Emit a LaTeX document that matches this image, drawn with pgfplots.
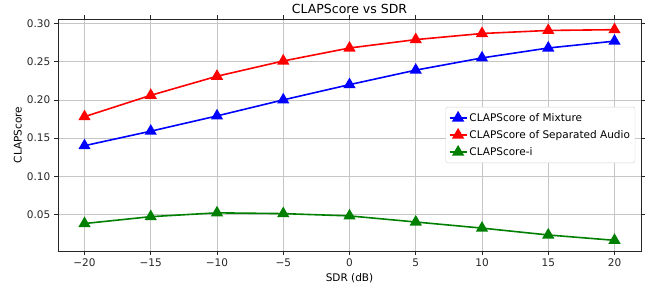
\documentclass[border=0pt]{standalone}
\usepackage{fontspec}
\setmainfont{DejaVu Sans}
\usepackage{pgfplots}
\pgfplotsset{compat=1.18}
\begin{document}
\fontsize{10.5}{12.5}\selectfont
\begin{tikzpicture}
\useasboundingbox (-58pt,-36pt) rectangle (594pt,251pt);
\begin{axis}[
  scale only axis,
  width=583pt, height=232pt,
  xmin=-22, xmax=22, ymin=0.002, ymax=0.306,
  xtick={-20,-15,-10,-5,0,5,10,15,20},
  xticklabels={−20,−15,−10,−5,0,5,10,15,20},
  ytick={0.05,0.10,0.15,0.20,0.25,0.30},
  yticklabel style={/pgf/number format/fixed,/pgf/number format/fixed zerofill,/pgf/number format/precision=2},
  /pgf/number format/assume math mode=true,
  tick label style={font=\fontsize{10.5}{12}\selectfont, color=black!85},
  tick align=outside, major tick length=4pt,
  tick style={black!85, line width=0.7pt},
  axis line style={black!85, line width=0.8pt},
  grid=major, grid style={gray!45, line width=0.7pt},
  title={CLAPScore vs SDR},
  title style={font=\fontsize{12.5}{14}\selectfont, yshift=-4pt},
  xlabel={SDR (dB)}, ylabel={CLAPScore},
  label style={font=\fontsize{10.5}{12}\selectfont},
  xlabel style={yshift=0pt},
  ylabel style={yshift=-2pt},
  legend style={at={(0.99,0.5)}, anchor=east, font=\fontsize{10.5}{12}\selectfont,
    draw=gray!35, rounded corners=2pt, row sep=3.5pt, inner xsep=3pt, inner ysep=4pt},
  legend cell align=left,
  every axis plot/.append style={line width=1.6pt, mark=triangle*, mark size=5.5pt, mark options={solid}},
]
\addplot[blue, mark options={fill=blue}] coordinates {
(-20,0.140) (-15,0.159) (-10,0.179) (-5,0.200) (0,0.220) (5,0.239) (10,0.255) (15,0.268) (20,0.277)};
\addlegendentry{CLAPScore of Mixture}
\addplot[red, mark options={fill=red}] coordinates {
(-20,0.178) (-15,0.206) (-10,0.231) (-5,0.251) (0,0.268) (5,0.279) (10,0.287) (15,0.291) (20,0.292)};
\addlegendentry{CLAPScore of Separated Audio}
\addplot[color={rgb,255:red,0;green,128;blue,0}, mark options={fill={rgb,255:red,0;green,128;blue,0}}] coordinates {
(-20,0.038) (-15,0.047) (-10,0.052) (-5,0.051) (0,0.048) (5,0.040) (10,0.032) (15,0.023) (20,0.016)};
\addlegendentry{CLAPScore-i}
\end{axis}
\end{tikzpicture}
\end{document}
